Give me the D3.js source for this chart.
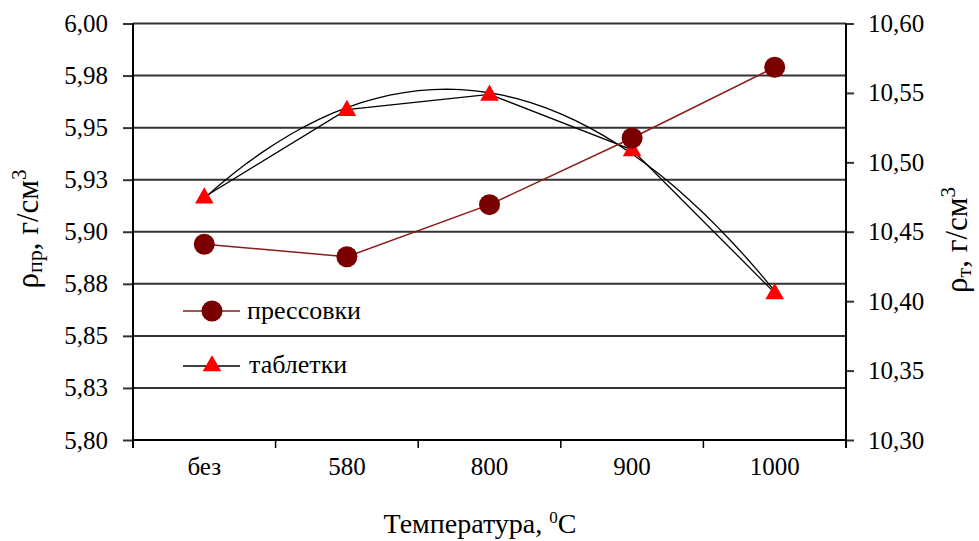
<!DOCTYPE html>
<html>
<head>
<meta charset="utf-8">
<script src="https://cdn.jsdelivr.net/npm/d3@7"></script>
<style>
  body { margin: 0; background: #fff; }
  svg text { font-family: "Liberation Serif", "Times New Roman", serif; fill: #000; }
</style>
</head>
<body>
<div class="chart"></div>
<script>
(function () {

	// Categories (temperature)
	var categories = ["без", "580", "800", "900", "1000"];

	// Series values
	var pressovki = [5.894, 5.888, 5.913, 5.945, 5.979];   // left axis
	var tabletki = [10.475, 10.538, 10.549, 10.509, 10.406]; // right axis

	// Tick values and labels
	var leftTicks = [5.800, 5.825, 5.850, 5.875, 5.900, 5.925, 5.950, 5.975, 6.000];
	var leftTickLabels = ["5,80", "5,83", "5,85", "5,88", "5,90", "5,93", "5,95", "5,98", "6,00"];
	var rightTicks = [10.30, 10.35, 10.40, 10.45, 10.50, 10.55, 10.60];
	var rightTickLabels = ["10,30", "10,35", "10,40", "10,45", "10,50", "10,55", "10,60"];

	var width = 979, height = 541;
	var plot = { left: 133, right: 846, top: 23.5, bottom: 440 };

	var svg = d3.select(".chart").append("svg")
		.attr("width", width)
		.attr("height", height);

	// Scales
	var xScale = d3.scaleBand()
		.domain(categories)
		.range([plot.left, plot.right]);

	var yLeft = d3.scaleLinear()
		.domain([5.80, 6.00])
		.range([plot.bottom, plot.top]);

	var yRight = d3.scaleLinear()
		.domain([10.30, 10.60])
		.range([plot.bottom, plot.top]);

	var cx = function (d, i) { return xScale(categories[i]) + xScale.bandwidth() / 2; };

	// Horizontal gridlines
	svg.append("g").selectAll("line")
		.data(leftTicks)
		.enter().append("line")
		.attr("x1", plot.left).attr("x2", plot.right)
		.attr("y1", function (d) { return yLeft(d); })
		.attr("y2", function (d) { return yLeft(d); })
		.attr("stroke", "#333")
		.attr("stroke-width", 2);

	// Left axis
	var leftAxis = d3.axisLeft(yLeft)
		.tickValues(leftTicks)
		.tickFormat(function (d, i) { return leftTickLabels[i]; })
		.tickSize(10)
		.tickPadding(15);
	var leftG = svg.append("g")
		.attr("transform", "translate(" + plot.left + ",0)")
		.call(leftAxis);
	leftG.select(".domain").remove();
	leftG.selectAll("line").attr("stroke", "#333").attr("stroke-width", 2);
	leftG.selectAll("text").style("font-size", "25px").style("font-family", "Liberation Serif");

	// Right axis
	var rightAxis = d3.axisRight(yRight)
		.tickValues(rightTicks)
		.tickFormat(function (d, i) { return rightTickLabels[i]; })
		.tickSize(8)
		.tickPadding(14);
	var rightG = svg.append("g")
		.attr("transform", "translate(" + plot.right + ",0)")
		.call(rightAxis);
	rightG.select(".domain").remove();
	rightG.selectAll("line").attr("stroke", "#333").attr("stroke-width", 2);
	rightG.selectAll("text").style("font-size", "25px").style("font-family", "Liberation Serif");

	// Vertical axis lines
	svg.append("line")
		.attr("x1", plot.left).attr("x2", plot.left)
		.attr("y1", plot.top).attr("y2", plot.bottom + 8)
		.attr("stroke", "#000").attr("stroke-width", 2);
	svg.append("line")
		.attr("x1", plot.right).attr("x2", plot.right)
		.attr("y1", plot.top).attr("y2", plot.bottom + 8)
		.attr("stroke", "#000").attr("stroke-width", 2);

	// Bottom axis: labels at band centers, ticks at band boundaries
	var bottomAxis = d3.axisBottom(xScale).tickSize(0).tickPadding(17);
	var bottomG = svg.append("g")
		.attr("transform", "translate(0," + plot.bottom + ")")
		.call(bottomAxis);
	bottomG.select(".domain").remove();
	bottomG.selectAll("text").style("font-size", "25px").style("font-family", "Liberation Serif");

	svg.append("line")
		.attr("x1", plot.left).attr("x2", plot.right)
		.attr("y1", plot.bottom).attr("y2", plot.bottom)
		.attr("stroke", "#000").attr("stroke-width", 2);

	svg.append("g").selectAll("line")
		.data(categories.slice(1))
		.enter().append("line")
		.attr("x1", function (d) { return xScale(d); })
		.attr("x2", function (d) { return xScale(d); })
		.attr("y1", plot.bottom).attr("y2", plot.bottom + 8)
		.attr("stroke", "#000").attr("stroke-width", 1.5);

	// Axis titles
	svg.append("text")
		.attr("x", 480).attr("y", 533)
		.attr("text-anchor", "middle")
		.style("font-size", "28px")
		.call(function (t) {
			t.append("tspan").text("Температура, ");
			t.append("tspan").text("0").style("font-size", "17px").attr("dy", -10);
			t.append("tspan").text("C").attr("dy", 10);
		});

	svg.append("text")
		.attr("transform", "translate(38,229) rotate(-90)")
		.attr("text-anchor", "middle")
		.style("font-size", "31px")
		.call(function (t) {
			t.append("tspan").text("ρ");
			t.append("tspan").text("пр").style("font-size", "22px").attr("dy", 4);
			t.append("tspan").text(", г/см").attr("dy", -4);
			t.append("tspan").text("3").style("font-size", "21px").attr("dy", -12);
		});

	svg.append("text")
		.attr("transform", "translate(967,240) rotate(-90)")
		.attr("text-anchor", "middle")
		.style("font-size", "31px")
		.call(function (t) {
			t.append("tspan").text("ρ");
			t.append("tspan").text("т").style("font-size", "22px").attr("dy", 4);
			t.append("tspan").text(", г/см").attr("dy", -4);
			t.append("tspan").text("3").style("font-size", "21px").attr("dy", -12);
		});

	// Quadratic trend line for таблетки (least squares, as the source chart's trendline)
	var n = tabletki.length;
	var xs = d3.range(1, n + 1);
	var mx = d3.mean(xs);
	var u = xs.map(function (v) { return v - mx; });
	var qMean = d3.mean(u.map(function (w) { return w * w; }));
	var q = u.map(function (v) { return v * v - qMean; });
	var a = d3.mean(tabletki);
	var b = d3.sum(u.map(function (v, i) { return v * tabletki[i]; })) / d3.sum(u.map(function (v) { return v * v; }));
	var c = d3.sum(q.map(function (v, i) { return v * tabletki[i]; })) / d3.sum(q.map(function (v) { return v * v; }));
	var trend = d3.range(0, 41).map(function (k) {
		var t = -2 + k * 0.1;
		return [t, a + b * t + c * (t * t - qMean)];
	});
	var bw = xScale.step();
	var midX = xScale(categories[2]) + xScale.bandwidth() / 2;
	svg.append("path")
		.datum(trend)
		.attr("fill", "none")
		.attr("stroke", "#000")
		.attr("stroke-width", 1.3)
		.attr("d", d3.line()
			.x(function (d) { return midX + d[0] * bw; })
			.y(function (d) { return yRight(d[1]); }));

	// таблетки straight line
	svg.append("path")
		.datum(tabletki)
		.attr("fill", "none")
		.attr("stroke", "#000")
		.attr("stroke-width", 1.3)
		.attr("d", d3.line().x(cx).y(function (d) { return yRight(d); }));

	// прессовки line
	svg.append("path")
		.datum(pressovki)
		.attr("fill", "none")
		.attr("stroke", "#8b1a1a")
		.attr("stroke-width", 1.5)
		.attr("d", d3.line().x(cx).y(function (d) { return yLeft(d); }));

	// Markers
	var triangle = d3.symbol().type(d3.symbolTriangle).size(150);
	svg.append("g").selectAll("path")
		.data(tabletki)
		.enter().append("path")
		.attr("d", triangle)
		.attr("fill", "#ff0000")
		.attr("transform", function (d, i) { return "translate(" + cx(d, i) + "," + (yRight(d) + 1) + ")"; });

	svg.append("g").selectAll("circle")
		.data(pressovki)
		.enter().append("circle")
		.attr("cx", cx)
		.attr("cy", function (d) { return yLeft(d); })
		.attr("r", 10.5)
		.attr("fill", "#7a0000");

	// Legend
	var legend = svg.append("g");
	legend.append("line")
		.attr("x1", 183).attr("x2", 240).attr("y1", 311).attr("y2", 311)
		.attr("stroke", "#8b1a1a").attr("stroke-width", 1.5);
	legend.append("circle")
		.attr("cx", 212).attr("cy", 311).attr("r", 10.5).attr("fill", "#7a0000");
	legend.append("text")
		.attr("x", 247).attr("y", 319)
		.style("font-size", "26px")
		.text("прессовки");

	legend.append("line")
		.attr("x1", 183).attr("x2", 240).attr("y1", 366).attr("y2", 366)
		.attr("stroke", "#000").attr("stroke-width", 1.3);
	legend.append("path")
		.attr("d", triangle)
		.attr("fill", "#ff0000")
		.attr("transform", "translate(212,366)");
	legend.append("text")
		.attr("x", 249).attr("y", 373)
		.style("font-size", "26px")
		.text("таблетки");
})();
</script>
</body>
</html>
